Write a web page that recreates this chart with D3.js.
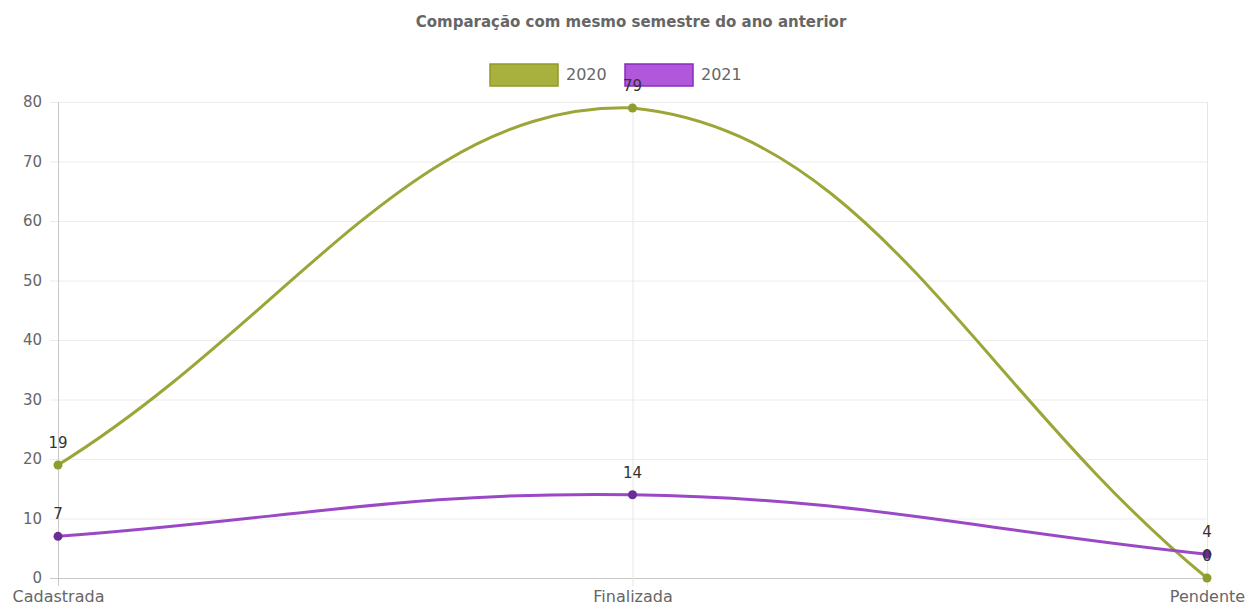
<!DOCTYPE html>
<html><head><meta charset="utf-8">
<script src="https://cdn.jsdelivr.net/npm/d3@7/dist/d3.min.js"></script>
<style>body{margin:0;background:#fff}svg{display:block}</style>
</head><body>
<svg id="c" width="1253" height="615"></svg>
<script>
const categories = ["Cadastrada", "Finalizada", "Pendente"];
const seriesNames = ["2020", "2021"];
const values2020 = [19, 79, 0];
const values2021 = [7, 14, 4];
const yTicks = [0, 10, 20, 30, 40, 50, 60, 70, 80];
const title = "Comparação com mesmo semestre do ano anterior";

const W = 1253, H = 615;
const m = {left: 58, right: 46, top: 102, bottom: 37};
const svg = d3.select("#c");
const font = "'DejaVu Sans', Arial, sans-serif";

const x = d3.scalePoint().domain(categories).range([m.left, W - m.right]);
const y = d3.scaleLinear().domain([0, 80]).range([H - m.bottom, m.top]);

// grid
const g = svg.append("g");
g.selectAll("line.h").data(yTicks).join("line")
  .attr("x1", m.left - 8).attr("x2", W - m.right)
  .attr("y1", d => y(d) + 0.5).attr("y2", d => y(d) + 0.5)
  .attr("stroke", d => d === 0 ? "#c8c8c8" : "#ececec").attr("stroke-width", 1);
g.selectAll("line.v").data(categories).join("line")
  .attr("x1", d => x(d) + 0.5).attr("x2", d => x(d) + 0.5)
  .attr("y1", m.top).attr("y2", H - m.bottom + 8)
  .attr("stroke", (d, i) => i === 0 ? "#c8c8c8" : "#e6e6e6").attr("stroke-width", 1);

// axes labels
const yAxis = d3.axisLeft(y).tickValues(yTicks).tickSize(0).tickPadding(16);
const ya = svg.append("g").attr("transform", `translate(${m.left},0)`).call(yAxis);
ya.select(".domain").remove();
ya.selectAll("text").attr("font-family", font).attr("font-size", 15).attr("fill", "#666");

const xAxis = d3.axisBottom(x).tickSize(0).tickPadding(13);
const xa = svg.append("g").attr("transform", `translate(0,${H - m.bottom})`).call(xAxis);
xa.select(".domain").remove();
xa.selectAll("text").attr("font-family", font).attr("font-size", 16).attr("fill", "#666");

// Chart.js-like spline
function splinePath(vals) {
  const pts = vals.map((v, i) => ({x: x(categories[i]), y: y(v)}));
  const t = 0.4;
  pts.forEach((p, i) => {
    const prev = pts[i - 1] || p, next = pts[i + 1] || p;
    const d01 = Math.hypot(p.x - prev.x, p.y - prev.y);
    const d12 = Math.hypot(next.x - p.x, next.y - p.y);
    let s01 = d01 / (d01 + d12), s12 = d12 / (d01 + d12);
    if (isNaN(s01)) s01 = 0; if (isNaN(s12)) s12 = 0;
    const fa = t * s01, fb = t * s12;
    p.c1x = p.x - fa * (next.x - prev.x); p.c1y = p.y - fa * (next.y - prev.y);
    p.c2x = p.x + fb * (next.x - prev.x); p.c2y = p.y + fb * (next.y - prev.y);
    const top = m.top, bot = H - m.bottom;
    p.c1y = Math.max(top, Math.min(bot, p.c1y));
    p.c2y = Math.max(top, Math.min(bot, p.c2y));
  });
  const path = d3.path();
  path.moveTo(pts[0].x, pts[0].y);
  for (let i = 1; i < pts.length; i++) {
    const a = pts[i - 1], b = pts[i];
    path.bezierCurveTo(a.c2x, a.c2y, b.c1x, b.c1y, b.x, b.y);
  }
  return path.toString();
}

const series = [
  {name: seriesNames[0], vals: values2020, stroke: "#9ca638", point: "#8e9e2c", box: "#a8b03e", boxStroke: "#8e9a2a"},
  {name: seriesNames[1], vals: values2021, stroke: "#9a48c6", point: "#6a2c96", box: "#b057dc", boxStroke: "#8a2bbb"}
];

// title
svg.append("text").attr("x", 631).attr("y", 27).attr("text-anchor", "middle")
  .attr("font-family", font).attr("font-size", 15).attr("font-weight", "bold")
  .attr("fill", "#666").text(title);

// legend
const legX = [490, 625];
series.forEach((s, i) => {
  svg.append("rect").attr("x", legX[i]).attr("y", 64).attr("width", 68).attr("height", 22)
    .attr("fill", s.box).attr("stroke", s.boxStroke).attr("stroke-width", 1.5);
  svg.append("text").attr("x", legX[i] + 76).attr("y", 80).attr("font-family", font)
    .attr("font-size", 16).attr("fill", "#666").text(s.name);
});

series.forEach(s => {
  svg.append("path").attr("d", splinePath(s.vals)).attr("fill", "none")
    .attr("stroke", s.stroke).attr("stroke-width", 3);
});
series.forEach(s => {
  svg.append("g").selectAll("circle").data(s.vals).join("circle")
    .attr("cx", (d, i) => x(categories[i])).attr("cy", d => y(d)).attr("r", 4.5)
    .attr("fill", s.point);
});
series.forEach(s => {
  svg.append("g").selectAll("text").data(s.vals).join("text")
    .attr("x", (d, i) => x(categories[i])).attr("y", d => y(d) - 17)
    .attr("text-anchor", "middle").attr("font-family", font).attr("font-size", 15)
    .attr("fill", "#333").text(d => d);
});
</script>
</body></html>
